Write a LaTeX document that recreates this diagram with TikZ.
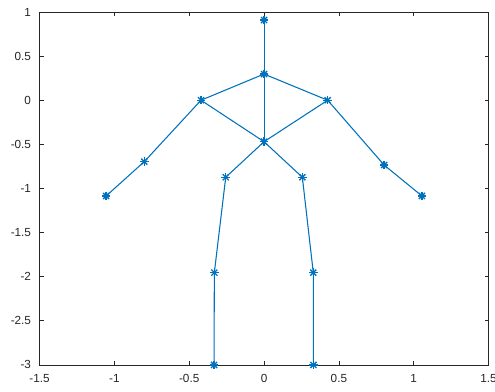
\documentclass[tikz,border=0pt]{standalone}
\usepackage{fontspec}
\setmainfont{Liberation Sans}
\usepackage{xcolor}
\definecolor{plotBlue}{RGB}{0, 114, 189}
\definecolor{axisGray}{RGB}{38, 38, 38}
\usepackage{tikz}
\usetikzlibrary{calc}

\begin{document}
\begin{tikzpicture}[x=112.3pt, y=66.2pt,
  joint/.style={inner sep=0pt, minimum size=0pt},
  bone/.style={draw=plotBlue, line width=0.8pt},
  frame/.style={draw=axisGray, line width=0.5pt},
  ticklbl/.style={font=\fontsize{8.8}{10}\selectfont, text=axisGray, inner sep=0pt}]

  % ── Page size / margins ──────────────────────────────────────────
  \useasboundingbox (-1.764,-3.306) rectangle (1.543,1.136);

  % ── Axes box and ticks ───────────────────────────────────────────
  \draw[frame] (-1.5,-3) rectangle (1.5,1);
  \foreach \x in {-1.5,-1,-0.5,0,0.5,1,1.5} {
    \draw[frame] (\x,-3) -- ++(0,0.045);
    \draw[frame] (\x,1) -- ++(0,-0.045);
    \node[ticklbl, anchor=north] (xt\x) at (\x,-3.1) {\x};
  }
  \foreach \y in {-3,-2.5,-2,-1.5,-1,-0.5,0,0.5,1} {
    \draw[frame] (-1.5,\y) -- ++(0.027,0);
    \draw[frame] (1.5,\y) -- ++(-0.027,0);
    \node[ticklbl, anchor=east] (yt\y) at (-1.555,\y) {\y};
  }

  % ── Joints ───────────────────────────────────────────────────────
  \node[joint] (head)   at (0, 0.909)       {};
  \node[joint] (neck)   at (0, 0.297)       {};
  \node[joint] (lshldr) at (-0.421, 0)      {};
  \node[joint] (rshldr) at (0.425, 0)       {};
  \node[joint] (pelvis) at (0, -0.470)      {};
  \node[joint] (lelbow) at (-0.800, -0.696) {};
  \node[joint] (relbow) at (0.802, -0.734)  {};
  \node[joint] (lhand)  at (-1.055, -1.085) {};
  \node[joint] (rhand)  at (1.055, -1.085)  {};
  \node[joint] (lhip)   at (-0.256, -0.873) {};
  \node[joint] (rhip)   at (0.256, -0.873)  {};
  \node[joint] (lknee)  at (-0.332, -1.954) {};
  \node[joint] (rknee)  at (0.329, -1.954)  {};
  \node[joint] (lfoot)  at (-0.334, -3)     {};
  \node[joint] (rfoot)  at (0.330, -3)      {};

  % ── Bones ────────────────────────────────────────────────────────
  \draw[bone] (head.center) -- (neck.center);
  \draw[bone] (neck.center) -- (pelvis.center);
  \draw[bone] (neck.center) -- (lshldr.center);
  \draw[bone] (neck.center) -- (rshldr.center);
  \draw[bone] (lshldr.center) -- (pelvis.center);
  \draw[bone] (rshldr.center) -- (pelvis.center);
  \draw[bone] (lshldr.center) -- (lelbow.center) -- (lhand.center);
  \draw[bone] (rshldr.center) -- (relbow.center) -- (rhand.center);
  \draw[bone] (pelvis.center) -- (lhip.center) -- (lknee.center) -- (lfoot.center);
  \draw[bone] (pelvis.center) -- (rhip.center) -- (rknee.center) -- (rfoot.center);

  % ── Star markers ─────────────────────────────────────────────────
  \foreach \j in {head,neck,lshldr,rshldr,pelvis,lelbow,relbow,lhand,rhand,
                  lhip,rhip,lknee,rknee,lfoot,rfoot} {
    \foreach \a in {0,45,90,135}
      \draw[draw=plotBlue, line width=1pt]
        ($(\j.center)+(\a:3.2pt)$) -- ($(\j.center)+(\a+180:3.2pt)$);
  }

\end{tikzpicture}
\end{document}
